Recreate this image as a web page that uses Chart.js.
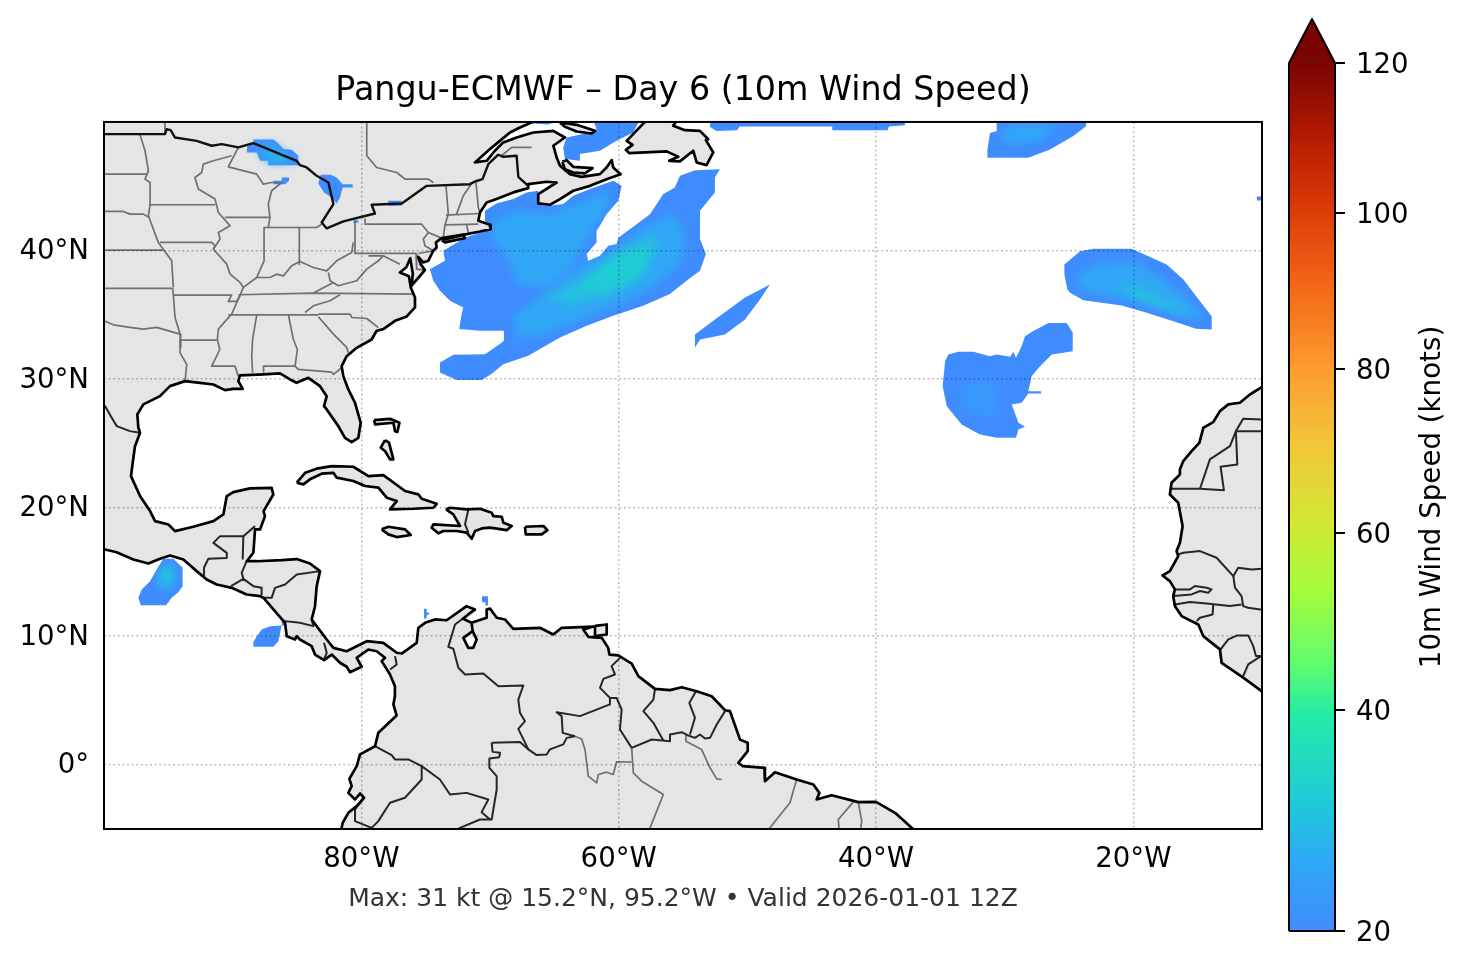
<!DOCTYPE html>
<html>
<head>
<meta charset="utf-8">
<title>Pangu-ECMWF Day 6</title>
<script src="https://cdn.jsdelivr.net/npm/chart.js@4/dist/chart.umd.min.js"></script>
<style>
body { margin: 0; background: #fff; }
canvas { position: absolute; top: 0; }
#mapChart { left: 0; }
#barChart { left: 1270px; }
</style>
</head>
<body>
<canvas id="mapChart" width="1466" height="969"></canvas>
<canvas id="barChart" width="196" height="969"></canvas>
<script>
// axis ticks
const lonTicks = [-80, -60, -40, -20];
const latTicks = [0, 10, 20, 30, 40];
const barTicks = [20, 40, 60, 80, 100, 120];

// colour map, position along the bar -> colour
const cmapStops = [0, .08, .15, .25, .31, .39, .47, .56, .65, .75, .84, .92, 1];
const cmapColors = ['#3f8cff', '#2fa8f5', '#1fcbd8', '#24eca6', '#61fc6c', '#a4fc3c', '#d1e834', '#f3c63a', '#fe9b2d', '#f36315', '#d93806', '#b11901', '#7a0402'];

// land outlines, [lon, lat]
const americas = [[-101,51],[-66.7,51],[-66.7,50],[-67.67,49.57],[-68.45,49.18],[-69.23,48.53],[-70,47.89],[-71.17,46.85],[-70.26,46.98],[-69.62,47.76],[-68.97,48.41],[-67.93,48.79],[-66.64,49.18],[-65.08,49.31],[-64.18,48.79],[-65.08,48.15],[-64.82,47.24],[-64.56,46.59],[-63.79,45.94],[-62.88,45.73],[-61.46,45.94],[-60.94,46.46],[-60.55,47.03],[-60.42,46.46],[-59.85,45.94],[-60.94,45.55],[-62.23,45.03],[-63.53,44.65],[-64.56,44],[-65.34,43.56],[-66.25,43.66],[-66.25,44.39],[-64.82,45.29],[-65.6,45.35],[-67.03,45.16],[-67.03,44.85],[-68.19,44.52],[-69.49,44],[-70.26,43.74],[-70.78,42.96],[-70.91,42.31],[-70,42],[-69.95,41.66],[-70.78,41.48],[-71.82,41.28],[-73.76,40.96],[-74.2,40.63],[-74.15,40.24],[-74.41,39.98],[-74.8,39.2],[-75.19,39.07],[-75.58,39.51],[-75.39,38.94],[-75.06,38.48],[-76.09,37.26],[-76,38.2],[-76.2,39.4],[-76.5,38.7],[-77,38.29],[-76.3,38],[-76.16,37.13],[-75.83,36.35],[-75.83,35.57],[-76.47,34.87],[-77.38,34.53],[-78.29,33.88],[-78.81,33.76],[-79.2,33.08],[-80.36,32.43],[-81.14,31.78],[-81.53,31],[-81.4,30.23],[-81.01,29.19],[-80.49,28.15],[-80.05,26.6],[-80.23,25.43],[-80.75,25.09],[-81.27,25.43],[-81.79,26.34],[-82.69,27.64],[-82.9,27.9],[-82.69,28.67],[-83.21,29.45],[-84.12,30.1],[-85.03,29.71],[-85.54,29.97],[-86.32,30.44],[-87.6,30.36],[-89.43,30.28],[-89.56,29.84],[-89.22,29.24],[-89.95,29.24],[-90.6,29.14],[-91.5,29.58],[-92.54,29.71],[-93.7,29.84],[-94.87,29.45],[-95.65,28.67],[-96.94,28.03],[-97.41,27.25],[-97.33,26.21],[-97.2,25.82],[-97.59,24.78],[-97.77,23.49],[-97.9,22.45],[-97.2,20.9],[-96.42,19.73],[-96.03,18.95],[-94.99,18.69],[-94.48,18.17],[-93.06,18.51],[-91.5,18.95],[-90.72,19.47],[-90.46,20.9],[-89.95,21.21],[-88.65,21.5],[-86.97,21.54],[-86.84,21.02],[-87.6,19.73],[-87.49,19.34],[-87.87,18.3],[-88.26,18.3],[-88.39,16.49],[-88.91,15.83],[-88.13,15.83],[-86.19,15.91],[-85.02,16],[-83.99,15.65],[-83.21,15.06],[-83.47,13.89],[-83.6,12.33],[-83.86,11.3],[-82.69,9.74],[-82.17,9.09],[-81.14,8.83],[-79.58,9.61],[-78.29,9.48],[-77.25,8.71],[-76.87,8.65],[-75.7,9.48],[-75.57,10.65],[-75.05,11.04],[-74.28,11.3],[-73.37,11.24],[-71.82,12.33],[-71.17,12.07],[-71.69,11.69],[-72.1,11.35],[-71.43,11.04],[-71.35,10.39],[-72.07,9.87],[-71.69,9.09],[-71.3,9.09],[-71.04,9.74],[-71.35,10.39],[-71.43,11.04],[-70.26,11.43],[-70.26,12.07],[-70,12.15],[-69.48,11.43],[-68.84,11.3],[-68.19,10.57],[-66.12,10.65],[-65.08,10.13],[-64.43,10.65],[-61.9,10.75],[-62.75,10.52],[-62.36,9.95],[-61.32,9.87],[-60.81,9.09],[-60.72,8.57],[-60.03,8.5],[-58.99,7.87],[-58.47,6.89],[-57.18,5.9],[-56.01,5.8],[-55.1,6.03],[-53.94,5.72],[-52.77,5.33],[-51.73,4.24],[-51.35,4.17],[-50.57,1.96],[-49.97,1.7],[-49.97,1.05],[-50.7,0.15],[-50.36,-0.11],[-48.68,-0.24],[-48.63,-1.28],[-47.85,-0.58],[-46.17,-1.15],[-44.87,-1.54],[-44.4,-2.19],[-44.61,-2.7],[-43.45,-2.37],[-41.37,-2.91],[-40,-2.89],[-38.52,-3.74],[-37.23,-4.91],[-36.58,-5.5],[-36,-7],[-82,-7],[-81.53,-4.91],[-81.45,-4.52],[-81.01,-3.74],[-80.36,-3.22],[-79.79,-2.57],[-80.1,-2.24],[-80.49,-2.7],[-81.01,-2.19],[-80.75,-1.67],[-80.93,-1.1],[-80.36,-0.11],[-80.1,0.8],[-78.94,1.44],[-78.68,2.48],[-77.26,3.83],[-77.51,4.69],[-77.39,5.33],[-77.39,6.11],[-77.77,7.02],[-78.42,8.06],[-78.16,8.32],[-78.81,8.83],[-79.46,8.96],[-80.36,8.32],[-79.98,7.62],[-80.88,7.2],[-81.14,7.62],[-81.66,7.93],[-82.3,8.57],[-82.9,8.13],[-83.6,8.57],[-83.86,9.22],[-84.77,9.74],[-85.02,10],[-85.15,9.74],[-85.8,10],[-85.93,11.04],[-87.6,12.98],[-87.87,13.11],[-88.91,13.24],[-90.08,13.76],[-91.24,14.02],[-92.02,14.41],[-92.8,15.06],[-93.83,15.96],[-94.87,16.27],[-95.65,16.02],[-96.55,15.65],[-97.72,15.96],[-99.02,16.53],[-99.92,16.74],[-101,16.85]];
const newfoundland = [[-58,51],[-57.88,50.09],[-59.38,48.53],[-58.92,48.22],[-59.44,47.83],[-59.18,47.58],[-56.27,47.71],[-55.37,47.29],[-56.07,46.98],[-55.24,46.93],[-54.2,47.76],[-53.94,46.85],[-53.17,46.64],[-52.65,47.63],[-53.22,48.59],[-53.04,48.66],[-53.68,49.31],[-54.85,49.36],[-55.76,49.7],[-55.5,50.09],[-55.5,51]];
const anticosti = [[-64.56,49.96],[-63.27,49.78],[-61.84,49.31],[-62.1,49.1],[-63.27,49.26],[-64.18,49.62]];
const princeEdward = [[-64.38,46.9],[-64.05,47.03],[-63.53,46.51],[-62.03,46.41],[-62.62,46],[-63.53,46.07],[-64.18,46.33]];
const longIsland = [[-73.76,40.8],[-72.08,41.22],[-71.95,40.96],[-73.5,40.63]];
const cuba = [[-85.02,21.94],[-84.37,22.71],[-83.47,23.03],[-82.3,23.23],[-80.62,23.18],[-79.45,22.45],[-78.29,22.53],[-76.6,21.29],[-75.57,21.03],[-75.31,20.69],[-74.14,20.3],[-74.4,19.99],[-75.95,19.91],[-77.77,19.86],[-77.25,20.51],[-78.03,20.77],[-78.67,21.55],[-79.71,21.68],[-80.62,22.07],[-81.91,22.33],[-82.17,22.71],[-83.08,22.64],[-83.99,22.2],[-84.5,21.81]];
const jamaica = [[-78.42,18.31],[-77.9,18.51],[-76.6,18.31],[-76.16,17.87],[-77.25,17.71],[-77.9,17.92]];
const hispaniola = [[-73.42,19.86],[-73.1,19.99],[-71.81,19.86],[-70.77,19.91],[-69.87,19.6],[-69.74,19.34],[-69.09,19.29],[-68.96,18.83],[-68.31,18.57],[-68.7,18.25],[-70,18.44],[-70.64,18.38],[-71.16,18.18],[-71.42,17.58],[-71.81,18.05],[-72.59,18.18],[-73.62,18.18],[-74.01,18],[-74.53,18.44],[-74.4,18.7],[-72.33,18.57],[-72.85,19.47]];
const puertoRico = [[-67.28,18.51],[-65.85,18.57],[-65.54,18.25],[-65.98,17.92],[-67.22,17.92]];
const grandBahama = [[-79.01,26.81],[-77.77,26.91],[-77.04,26.6],[-77.2,25.88],[-77.38,25.95],[-77.51,26.6],[-78.93,26.47]];
const andros = [[-78.16,25.25],[-77.85,25.05],[-77.51,23.75],[-77.77,23.75],[-78.16,24.4],[-78.49,24.66]];
const trinidad = [[-61.84,10.8],[-60.93,10.91],[-60.93,10.13],[-61.84,10]];
const westAfrica = [[-9,30],[-9.77,29.58],[-10.11,29.32],[-10.94,28.8],[-11.72,28.16],[-12.62,28.03],[-13.27,27.51],[-13.79,26.65],[-14.56,26.21],[-14.87,25.04],[-15.47,24.4],[-16.12,23.62],[-16.38,22.97],[-16.38,22.58],[-17.03,21.93],[-17.16,21.02],[-16.51,20.38],[-16.17,18.56],[-16.38,17.27],[-16.64,16.62],[-16.51,16.23],[-17.16,15.06],[-17.73,14.72],[-17.16,14.28],[-16.77,13.64],[-16.9,13.12],[-16.77,12.34],[-16.25,11.56],[-14.95,10.91],[-14.56,10],[-13.27,8.97],[-13.14,7.93],[-11.46,6.77],[-10.03,5.73],[-9.77,5.47],[-9,5]];
const landShapes = [americas, newfoundland, anticosti, princeEdward, longIsland, cuba, jamaica, hispaniola, puertoRico, grandBahama, andros, trinidad, westAfrica];

// black land border
const usCanada = [[-100.5,49.05],[-95.26,49.05],[-95.13,49.44],[-94.82,49.36],[-94.48,48.79],[-92.8,48.53],[-91.63,48.15],[-90.85,48.28],[-89.56,48.02],[-88.39,48.35],[-85.03,46.98],[-84.77,46.64],[-84.25,46.46],[-83.47,45.81],[-82.56,45.29],[-82.17,43.61],[-83.08,42.18],[-82.69,41.72],[-81.4,42.26],[-78.94,42.88],[-79.2,43.56],[-76.86,43.66],[-74.92,45.03],[-71.56,45.16],[-71.17,45.37],[-70.58,45.55],[-70.13,46.72],[-69.36,47.45],[-68.97,47.29],[-67.93,47.37],[-67.8,45.73],[-67.03,45.03]];

// dark country borders
const countryBorders = [
  [[-101,28.2],[-99.92,27.9],[-99.4,26.99],[-99.01,26.34],[-97.98,25.95],[-97.2,25.82]],
  [[-92.28,14.67],[-92.23,15.32],[-91.89,16.02],[-90.46,16.09],[-90.46,16.48],[-91.5,17.26],[-90.98,17.78],[-89.17,17.78],[-89.22,15.97]],
  [[-89.17,17.78],[-88.26,18.56]],
  [[-88.91,15.83],[-89.3,14.93],[-89.17,14.46]],
  [[-90.13,13.89],[-89.17,14.46],[-88.39,13.89],[-87.75,13.76],[-87.75,13.24]],
  [[-87.6,12.98],[-86.97,12.98],[-86.71,13.76],[-85.93,14.02],[-85.02,14.8],[-83.21,15.06]],
  [[-85.93,11.17],[-84.77,11.04],[-83.73,10.78],[-83.86,11.3]],
  [[-82.9,9.48],[-82.69,8.71],[-82.9,8.19]],
  [[-77.38,8.45],[-77.25,7.8],[-77.77,7.41]],
  [[-71.69,11.69],[-72.72,10.91],[-73.24,9.17],[-72.85,9.02],[-72.46,7.54],[-71.94,7.02],[-70.52,7.1],[-69.35,6.11],[-67.41,6.16],[-67.8,5.07],[-67.67,4.04],[-67.28,3.39],[-67.8,2.79],[-67.02,1.19]],
  [[-69.87,1.7],[-67.67,1.76],[-67.02,1.19],[-66.38,0.75],[-65.6,0.8],[-65.34,1.19],[-64.3,1.58],[-64.04,2.09],[-63.4,2.22]],
  [[-69.87,1.7],[-69.8,1],[-69.22,0.93],[-69.28,0.59],[-70.05,0.48],[-70.05,-0.24],[-69.48,-0.89],[-69.48,-1.93],[-69.87,-4.26],[-70.78,-4.26],[-72.33,-4.91],[-73,-5.3]],
  [[-75.31,-0.11],[-73.89,-1.15],[-73.11,-2.32],[-71.82,-2.19],[-70.13,-2.7],[-70.65,-3.69],[-70,-4.26]],
  [[-78.94,1.44],[-77.64,0.74],[-77.39,0.41],[-76.35,0.41],[-75.31,-0.11]],
  [[-75.31,-0.11],[-75.31,-1.15],[-76.61,-2.57],[-77.77,-2.96],[-78.68,-4.39],[-79.2,-4.91],[-80.49,-4.39],[-80.49,-3.48],[-79.79,-2.57]],
  [[-59.9,8.31],[-60.55,7.67],[-60.29,7.02],[-61.19,6.68],[-61.45,5.98],[-60.68,5.2],[-60.16,5.2],[-59.77,4.29],[-59.9,2.74],[-58.99,1.31]],
  [[-60.68,5.2],[-60.68,4.69],[-63.01,3.78],[-64.82,4.09],[-64.43,3.78],[-64.35,2.48],[-63.4,2.22]],
  [[-57.18,5.9],[-57.3,5.07],[-58.08,4.17],[-57.3,3.26],[-56.53,1.88]],
  [[-58.99,1.31],[-57.43,1.96],[-56.01,1.83],[-56.01,2.35],[-55.1,2.53],[-54.58,2.27],[-54.07,2.09],[-53.68,2.35],[-53.29,2.04],[-52.9,2.09],[-52.38,3.13],[-51.73,4.17]],
  [[-53.99,5.72],[-54.51,4.81],[-54.07,3.65],[-54.46,2.35]],
  [[-17.03,21.47],[-14.82,21.47],[-12.96,21.36],[-13.22,23.18],[-11.92,23.36],[-12.03,25.95],[-9,25.95]],
  [[-14.82,21.47],[-14.05,23.75],[-12.49,24.78],[-12.03,25.95],[-11.46,26.91],[-9,26.81]],
  [[-16.51,16.36],[-16.12,16.49],[-14.82,16.62],[-13.53,16.1],[-12.23,14.67],[-11.85,15.32],[-10.81,15.19],[-9,15.32]],
  [[-12.23,14.67],[-12.1,13.77],[-11.59,13.12],[-11.46,12.34],[-11.07,12.21],[-9,11.9]],
  [[-16.77,13.64],[-15.6,13.64],[-15.21,13.9],[-14.3,13.77],[-13.92,13.64],[-14.18,13.38],[-14.82,13.51],[-15.47,13.25],[-16.9,13.12]],
  [[-16.77,12.47],[-15.6,12.65],[-14.3,12.55],[-12.49,12.34],[-11.59,12.47]],
  [[-13.79,12.47],[-13.84,11.69],[-14.82,11.43],[-15.08,11.17]],
  [[-13.22,8.97],[-12.62,9.75],[-11.92,10.06],[-11.07,10.06],[-10.68,9.23],[-10.47,8.45],[-9,8.45]],
  [[-11.46,6.9],[-11.07,7.8],[-10.08,8.45]],
  [[-71.68,19.86],[-71.94,18.7],[-71.68,18.05]]
];

// grey state and province borders
const stateBorders = [
  [[-100.5,45.94],[-96.68,45.94]],
  [[-97.2,49],[-96.81,47.76],[-96.55,46.2],[-96.81,45.55],[-96.42,45.29],[-96.42,43.56],[-96.55,42.7],[-95.78,40.63],[-94.74,39.2],[-94.61,37.13]],
  [[-96.42,43.56],[-91.37,43.56]],
  [[-100.5,43.04],[-98.5,43.04],[-97.98,42.83],[-96.94,42.83],[-96.48,42.57]],
  [[-100.5,40.03],[-95.39,40.03]],
  [[-100.5,37.05],[-94.66,37.05]],
  [[-95.65,40.63],[-91.63,40.63],[-91.37,40.37],[-91.5,40.1]],
  [[-94.61,36.53],[-90.08,36.53],[-90.34,36.04],[-89.69,36.04],[-89.43,36.5]],
  [[-90.08,47.37],[-91.5,46.98],[-92.28,46.72],[-92.41,46.07],[-92.93,45.68],[-92.67,44.78],[-91.37,44],[-91.11,42.96],[-90.2,41.92],[-91.11,41.4],[-90.98,40.89],[-91.5,40.1],[-90.46,38.94],[-90.2,38.16],[-89.43,37.52],[-89.17,37.13],[-89.43,36.5],[-90.08,35.05],[-91.11,33.89],[-91.19,33.08],[-91,32.3],[-91.63,31],[-89.82,31],[-89.56,30.23]],
  [[-94.09,33.08],[-94.09,32.04],[-93.57,31.14],[-93.7,29.84]],
  [[-88.13,35],[-88.45,33.08],[-88.52,31.78],[-88.45,30.49]],
  [[-85.67,35],[-85.28,33.08],[-84.97,32.3],[-85.15,31],[-84.9,30.75],[-82.3,30.54],[-82.17,30.36],[-81.53,30.88]],
  [[-87.6,30.49],[-87.6,31],[-85.15,31]],
  [[-90.34,35],[-83.34,35]],
  [[-83.34,34.85],[-82.17,33.5],[-81.14,32.46],[-81.01,32.04]],
  [[-83.34,35.05],[-80.88,35.05],[-80.75,34.79],[-79.58,34.71],[-78.68,34]],
  [[-84.38,35.18],[-83.73,35.7],[-82.43,36.09],[-81.66,36.56]],
  [[-89.56,36.56],[-83.73,36.69],[-75.83,36.61]],
  [[-89.17,37.13],[-88.13,37.9],[-87.1,37.9],[-86.58,38.16],[-86.06,38.03],[-85.41,38.81],[-84.77,39.15],[-83.73,38.68],[-82.69,38.42],[-81.92,39.2],[-80.75,39.85],[-80.62,40.63]],
  [[-87.56,41.79],[-87.56,39.2],[-88.13,37.9]],
  [[-84.82,41.79],[-84.82,38.94]],
  [[-87.56,41.79],[-83.47,41.79],[-83.08,42.05]],
  [[-90.6,42.57],[-87.1,42.57]],
  [[-86.19,45.29],[-86.97,44.65],[-87.23,43.61],[-87.1,42.57],[-87.23,41.79]],
  [[-89.56,48.02],[-90.34,46.51],[-88.13,45.94],[-87.61,45.16],[-86.97,45.29],[-86.19,45.29]],
  [[-82.56,38.29],[-82.43,37.65],[-81.79,37.26],[-80.36,37.65],[-79.58,38.55],[-78.68,39.2],[-78.29,39.59]],
  [[-83.73,36.69],[-82.17,37.52]],
  [[-80.49,42.31],[-80.49,39.77],[-75.7,39.77]],
  [[-79.45,39.59],[-78.29,39.59],[-77,38.94]],
  [[-75.75,39.72],[-75.7,38.55],[-75.05,38.48]],
  [[-79.71,42.44],[-79.71,42.05],[-75.31,42.05],[-74.79,41.4],[-73.89,41.02]],
  [[-74.79,41.4],[-75.18,40.89],[-75.05,40.37],[-74.41,39.98],[-75.57,39.77]],
  [[-79.58,50.5],[-79.58,47.37],[-78.81,46.46],[-77.25,46.07],[-76.6,45.55],[-74.79,45.55],[-74.4,45.29]],
  [[-73.42,45.04],[-73.24,42.83],[-73.5,42],[-73.63,41.02]],
  [[-71.43,45.22],[-72.08,44.26],[-72.6,42.83]],
  [[-71.09,45.29],[-70.91,43.35],[-70.78,42.96]],
  [[-73.42,42.75],[-70.78,42.88]],
  [[-73.5,42],[-70.91,42.05]],
  [[-71.82,42],[-71.69,41.4]],
  [[-69.1,47.37],[-68.32,48.02],[-66.77,48.02]],
  [[-95.26,50.5],[-95.26,49.05]],
  [[-94.66,37.05],[-94.61,36.53],[-94.48,34.79],[-94.09,33.5],[-94.04,32.46]],
  [[-100.5,34.6],[-100,34.53],[-99.27,34.22],[-97.98,34.02],[-96.94,33.89],[-95.91,34.02],[-94.09,33.5]],
  [[-94.09,33.03],[-91.24,33.03]],
  [[-54.77,2.35],[-54.77,1.83],[-53.55,1.18],[-52.9,-0.24],[-52.38,-1.1],[-51.99,-1.15]],
  [[-58.99,1.31],[-58.86,-0.63],[-58.21,-1.28],[-56.53,-2.32],[-57.56,-4.91],[-57.7,-5.3]],
  [[-58.99,0.2],[-60.16,0.23],[-60.42,-0.76],[-60.94,-0.58],[-61.58,-0.76],[-61.71,-1.41],[-62.36,-0.89],[-62.62,1.19],[-62.88,2],[-63.4,2.22]],
  [[-46.17,-1.15],[-46.69,-2.96],[-48.24,-4.91],[-48.6,-5.3]],
  [[-41.76,-2.89],[-42.93,-4.26],[-42.85,-5.3]],
  [[-41.37,-2.96],[-41.11,-4.39],[-41.24,-5.3]],
  [[-37.36,-4.91],[-37.75,-5.3]]
];

// wind speed regions, outer edge at 20 kt
const atlanticMain = [[-70.39,43.09],[-69.49,43.66],[-68.19,44],[-67.16,44.52],[-66.25,44.65],[-66.25,43.56],[-65.34,43.48],[-64.31,43.61],[-63.53,44.26],[-62.23,44.78],[-60.42,45.42],[-59.77,45.03],[-60.03,43.87],[-60.94,42.83],[-61.46,41.92],[-61.72,41.53],[-61.72,40.63],[-62.49,39.72],[-62.36,39.2],[-61.46,39.59],[-60.81,40.37],[-60.16,40.5],[-60.03,41],[-58.61,42.05],[-57.57,42.83],[-56.53,44.39],[-55.63,44.9],[-55.24,45.81],[-54.07,46.25],[-52.13,46.33],[-52.52,45.68],[-52.52,44.52],[-53.68,43.09],[-53.68,40.89],[-53.22,39.72],[-53.68,38.42],[-54.72,37.65],[-56.02,36.61],[-58.09,35.7],[-60.42,34.92],[-62.49,34.14],[-64.56,33.24],[-67.03,31.81],[-68.97,31.16],[-69.88,30.39],[-70.65,29.92],[-72.6,29.92],[-73.89,30.52],[-73.89,31.29],[-72.85,31.89],[-70.39,31.94],[-69.23,32.72],[-68.92,32.98],[-68.92,33.76],[-70.78,33.76],[-72.39,33.89],[-72.21,35.05],[-72.08,35.57],[-73.11,36.09],[-73.89,36.87],[-74.41,37.65],[-74.67,38.55],[-73.5,39.2],[-73.63,39.98],[-71.95,41],[-70,41.66],[-70.39,42.31]];
const gulfStLawrenceA = [[-67.1,50.5],[-67,49.9],[-65.5,49.8],[-64.9,50],[-64.6,50.5]];
const gulfStLawrenceB = [[-62.1,50.5],[-58.2,50.5],[-58.87,49.18],[-60.16,48.53],[-61.46,47.76],[-63.01,47.5],[-63.01,46.98],[-64.18,47.11],[-64.31,48.02],[-64.05,48.79],[-62.23,49.18],[-61.72,49.44]];
const northStrip = [[-52.9,50.5],[-52.9,49.6],[-52.4,49.3],[-50.8,49.35],[-50.6,49.65],[-43.4,49.65],[-43.4,49.35],[-39.1,49.35],[-39,49.65],[-37.75,49.75],[-37.75,50.5]];
const midAtlantic = [[-54.07,32.46],[-54.07,33.47],[-52.52,34.64],[-50.18,36.35],[-48.24,37.36],[-49.02,36.19],[-50.18,34.64],[-51.74,33.47],[-53.68,33.08]];
const northEast = [[-30.62,50.5],[-23.68,50.5],[-23.68,49.67],[-24.66,48.9],[-26.47,47.86],[-28.16,47.21],[-31.34,47.21],[-31.34,47.86],[-31.14,49.15],[-30.67,49.28]];
const azoresNorth = [[-23.11,40.13],[-20.13,40.13],[-18.96,39.61],[-17.41,38.91],[-16.11,37.75],[-14.82,36.06],[-13.91,34.89],[-13.91,33.86],[-15.13,33.91],[-16.89,34.5],[-18.96,35.15],[-20.9,35.72],[-22.46,35.93],[-23.88,36.14],[-24.92,36.71],[-25.13,36.97],[-25.36,38.13],[-25.36,38.91],[-24.14,39.95]];
const azoresSouth = [[-26.6,34.37],[-25.18,34.37],[-24.71,33.6],[-24.71,32.17],[-26.34,31.91],[-27.25,31],[-27.9,30.23],[-28.16,29.06],[-27.17,29.06],[-27.17,28.88],[-28.16,28.88],[-28.68,28.15],[-29.45,28.02],[-28.93,26.6],[-28.42,26.29],[-28.93,26.08],[-29.12,25.43],[-30.62,25.43],[-31.91,25.69],[-33.34,26.47],[-34.5,27.89],[-34.82,29.45],[-34.63,31.39],[-34.38,31.91],[-33.6,32.12],[-32.43,32.12],[-31.14,31.78],[-30.62,31.91],[-29.58,31.73],[-29.32,32.12],[-29.12,31.65],[-28.68,32.56],[-28.42,33.34],[-27.77,33.73]];
const tehuantepec = [[-95.39,16.02],[-94.61,16.02],[-93.89,15.32],[-93.89,13.89],[-94.22,13.42],[-94.74,12.98],[-95.18,12.41],[-97.15,12.41],[-97.33,12.98],[-97.07,13.63],[-96.42,14.28],[-95.91,15.19]];
const papagayo = [[-87.1,10.78],[-86.19,10.83],[-86.45,9.61],[-86.84,9.17],[-88.39,9.17],[-88.39,9.53],[-88.13,9.99],[-87.75,10.52]];
const papagayoSmall = [[-86.19,11.3],[-85.93,11.3],[-85.93,10.83],[-86.19,10.83]];
const colombiaDot = [[-75.13,12.13],[-74.92,12.13],[-74.92,11.87],[-74.66,11.76],[-74.92,11.61],[-74.92,11.37],[-75.13,11.37]];
const arubaDot = [[-70.62,13.11],[-70.16,13.11],[-70.16,12.39],[-70.36,12.39],[-70.36,12.64],[-70.62,12.64]];
const superior = [[-88.39,48.64],[-86.84,48.64],[-86.45,48.33],[-86.06,47.89],[-85.41,47.83],[-84.9,47.37],[-84.9,46.64],[-87.23,46.64],[-87.23,46.98],[-87.87,46.98],[-88.13,47.63],[-88.91,47.63],[-88.86,48.15],[-88.39,48.33]];
const michigan = [[-86.84,45.42],[-86.19,45.42],[-86.19,45.68],[-85.62,45.68],[-85.62,45.42],[-85.93,45.16],[-86.84,45.16]];
const huron = [[-83.16,45.89],[-82.38,45.89],[-81.92,45.68],[-81.45,45.16],[-80.67,45.16],[-80.67,44.9],[-81.45,44.9],[-81.66,44.13],[-81.92,43.66],[-82.3,44.13],[-82.9,44.52],[-83.34,45.22]];
const ontarioLake = [[-77.9,43.87],[-76.86,43.87],[-76.86,43.48],[-77.9,43.48]];
const erieDot = [[-80.62,42.36],[-80.23,42.36],[-80.23,42.16],[-80.62,42.16]];
const edgeDot = [[-10.4,44.2],[-9.9,44.2],[-9.9,43.9],[-10.4,43.9]];

// stronger wind inside them
const atlanticNorth25 = [[-69.75,42.31],[-67.93,43.09],[-65.34,42.83],[-63.01,43.74],[-60.94,44.52],[-60.81,43.61],[-62.1,41.53],[-63.01,39.98],[-64.05,38.16],[-65.86,37.13],[-67.93,37.39],[-68.45,39.2],[-69.75,40.76]];
const atlanticBand25 = [[-68.19,34.79],[-65.86,36.61],[-62.75,38.94],[-59.9,40.5],[-57.57,42.05],[-55.76,42.83],[-54.98,41.53],[-54.98,39.2],[-57.31,37.13],[-60.42,35.57],[-63.53,34.4],[-66.64,33.24],[-67.93,33.24]];
const atlanticBand29 = [[-65.6,36.35],[-62.49,37.9],[-59.9,39.72],[-57.31,41.27],[-57.05,39.98],[-58.09,38.16],[-60.94,36.61],[-63.53,35.83]];
const atlanticBand31 = [[-63,37.4],[-59.9,39.8],[-57.6,40.3],[-58.3,38],[-60.94,36.7]];
const northEast25 = [[-29.58,49.8],[-25.96,49.8],[-26.99,48.63],[-29.32,48.25],[-30.36,48.63]];
const azoresNorth25 = [[-24.4,38],[-22.59,39.04],[-19.74,39.04],[-17.66,37.75],[-15.85,36.2],[-14.3,34.63],[-16.11,34.89],[-19.22,36.06],[-22.33,36.45],[-24.14,37.1]];
const azoresNorth29 = [[-21.03,37.23],[-19.22,36.97],[-17.15,35.93],[-15.33,34.89],[-17.41,35.41],[-19.74,36.19]];
const azoresSouth22 = [[-33.73,28.93],[-31.91,29.97],[-30.62,29.45],[-30.88,26.86],[-32.43,27.37]];
const tehuantepec25 = [[-95.39,15.57],[-94.48,15.32],[-94.35,14.15],[-95.52,13.37],[-95.91,14.15]];
const tehuantepec29 = [[-95.26,15.57],[-94.74,15.19],[-94.87,14.15],[-95.65,14.02]];
const tehuantepec31 = [[-95.13,15.32],[-94.82,14.93],[-95.26,14.28],[-95.52,14.54]];
const superior25 = [[-88.13,48.28],[-86.84,48.28],[-85.02,46.98],[-87.1,46.85],[-87.87,47.5]];
const superior29 = [[-87.62,47.76],[-86.58,47.5],[-85.41,46.98],[-86.97,47.03]];

const windKnots = [20, 20, 20, 20, 20, 20, 20, 20, 20, 20, 20, 20, 20, 20, 20, 20, 20, 20, 20,
  25, 25, 29, 31, 25, 25, 29, 22, 25, 29, 31, 25, 29];
const windShapes = [atlanticMain, gulfStLawrenceA, gulfStLawrenceB, northStrip, midAtlantic, northEast, azoresNorth, azoresSouth, tehuantepec, papagayo, papagayoSmall, colombiaDot, arubaDot, superior, michigan, huron, ontarioLake, erieDot, edgeDot,
  atlanticNorth25, atlanticBand25, atlanticBand29, atlanticBand31, northEast25, azoresNorth25, azoresNorth29, azoresSouth22, tehuantepec25, tehuantepec29, tehuantepec31, superior25, superior29];

const FONT = '"DejaVu Sans", sans-serif';

function barPos(kt) {
  return Math.pow((kt - 20) / 100, 0.85);
}

function cmap(p) {
  let i = 0;
  while (i < cmapStops.length - 2 && p > cmapStops[i + 1]) i++;
  const f = Math.min(1, (p - cmapStops[i]) / (cmapStops[i + 1] - cmapStops[i]));
  const a = parseInt(cmapColors[i].slice(1), 16), b = parseInt(cmapColors[i + 1].slice(1), 16);
  const mix = s => Math.round(((a >> s) & 255) * (1 - f) + ((b >> s) & 255) * f);
  return 'rgb(' + mix(16) + ',' + mix(8) + ',' + mix(0) + ')';
}

function toPoints(pts, closed) {
  const out = pts.map(p => ({ x: p[0], y: p[1] }));
  if (closed) out.push(out[0]);
  return out;
}

function polygon(pts, fill, line, width) {
  return { data: toPoints(pts, true), showLine: true, fill: 'shape', backgroundColor: fill,
    borderColor: line || 'transparent', borderWidth: width || 0, pointRadius: 0, tension: 0 };
}

function polyline(pts, line, width) {
  return { data: toPoints(pts, false), showLine: true, fill: false, borderColor: line,
    borderWidth: width, pointRadius: 0, tension: 0, borderJoinStyle: 'round' };
}

// drawn in this order, bottom to top
let mapSets = [];
landShapes.forEach(s => mapSets.push(polygon(s, '#e5e5e5')));
windShapes.forEach((s, i) => {
  const d = polygon(s, cmap(barPos(windKnots[i])));
  d.soft = windKnots[i] > 20;
  mapSets.push(d);
});
stateBorders.forEach(s => mapSets.push(polyline(s, '#707070', 1.7)));
countryBorders.forEach(s => mapSets.push(polyline(s, '#262626', 2)));
mapSets.push(polyline(usCanada, '#111', 2.4));
landShapes.forEach(s => mapSets.push(polyline(s.concat([s[0]]), '#000', 2.7)));
mapSets.forEach((d, i) => { d.order = -i; });

// the filler runs first in each dataset draw, so the blur for the stronger
// wind shapes has to be set when the dataset before them has finished
const softWind = {
  id: 'softWind',
  afterDatasetDraw(chart, args) {
    const next = chart.data.datasets[args.index + 1];
    const soft = next && next.soft;
    chart.ctx.filter = soft ? 'blur(4px)' : 'none';
    chart.ctx.globalCompositeOperation = soft ? 'source-atop' : 'source-over';
  }
};

const frame = {
  id: 'frame',
  afterDraw(chart) {
    const a = chart.chartArea, c = chart.ctx;
    c.save();
    c.strokeStyle = '#000';
    c.lineWidth = 2;
    c.strokeRect(a.left, a.top, a.right - a.left, a.bottom - a.top);
    c.restore();
  }
};

new Chart(document.getElementById('mapChart'), {
  type: 'scatter',
  data: { datasets: mapSets },
  plugins: [softWind, frame],
  options: {
    responsive: false,
    animation: false,
    events: [],
    layout: { padding: { left: 0, right: 204, top: 0, bottom: 55 } },
    plugins: {
      legend: { display: false },
      tooltip: { enabled: false },
      title: {
        display: true,
        fullSize: false,
        text: 'Pangu-ECMWF – Day 6 (10m Wind Speed)',
        color: '#000',
        font: { family: FONT, size: 33.3, weight: 'normal' },
        padding: { top: 71, bottom: 11 }
      }
    },
    scales: {
      x: {
        type: 'linear', min: -100, max: -10,
        afterFit(s) { s.height = 85; },
        afterBuildTicks(s) { s.ticks = lonTicks.map(v => ({ value: v })); },
        grid: { color: 'rgba(0,0,0,0.26)', lineWidth: 1.5, drawTicks: false, z: 1 },
        border: { display: false, dash: [2, 2.6] },
        ticks: { color: '#000', padding: 14, maxRotation: 0, autoSkip: false,
          font: { family: FONT, size: 27.6 }, callback: v => (-v) + '°W' },
        title: { display: true, text: 'Max: 31 kt @ 15.2°N, 95.2°W • Valid 2026-01-01 12Z', color: '#333',
          font: { family: FONT, size: 25 }, padding: { top: 6, bottom: 0 } }
      },
      y: {
        type: 'linear', min: -5, max: 50,
        afterFit(s) { s.width = 104; },
        afterBuildTicks(s) { s.ticks = latTicks.map(v => ({ value: v })); },
        grid: { color: 'rgba(0,0,0,0.26)', lineWidth: 1.5, drawTicks: false, z: 1 },
        border: { display: false, dash: [2, 2.6] },
        ticks: { color: '#000', padding: 15, labelOffset: 1.5, autoSkip: false,
          font: { family: FONT, size: 27.6 }, callback: v => v === 0 ? '0°' : v + '°N' }
      }
    }
  }
});

// colour bar: strips painted from the bottom up, each one reaching the top of the bar
const barLevels = [];
for (let i = 0; i < 220; i++) barLevels.push(i / 220);
const TIP = 912 / 868;

let barSets = barLevels.map(p => polygon([[0, p], [1, p], [1, 1], [0, 1]], cmap(p + 0.5 / 220)));
barSets.push(polygon([[0, 1], [0.5, TIP], [1, 1]], cmap(1)));
barSets.push(polyline([[0, 0], [0, 1], [0.5, TIP], [1, 1], [1, 0], [0, 0]], '#000', 2));
barSets.forEach((d, i) => { d.order = -i; d.clip = false; });

const barTitle = {
  id: 'barTitle',
  afterDraw(chart) {
    const c = chart.ctx;
    c.save();
    c.translate(162.5, 497);
    c.rotate(-Math.PI / 2);
    c.fillStyle = '#000';
    c.font = '27.7px ' + FONT;
    c.textAlign = 'center';
    c.textBaseline = 'middle';
    c.fillText('10m Wind Speed (knots)', 0, 0);
    c.restore();
  }
};

new Chart(document.getElementById('barChart'), {
  type: 'scatter',
  data: { datasets: barSets },
  plugins: [barTitle],
  options: {
    responsive: false,
    animation: false,
    events: [],
    layout: { padding: { left: 19, right: 0, top: 19, bottom: 38 } },
    plugins: { legend: { display: false }, tooltip: { enabled: false } },
    scales: {
      x: { type: 'linear', min: 0, max: 1, display: false },
      y: {
        type: 'linear', position: 'right', min: 0, max: TIP,
        afterFit(s) { s.width = 131; s.paddingTop = 0; s.paddingBottom = 0; },
        afterBuildTicks(s) { s.ticks = barTicks.map(v => ({ value: barPos(v) })); },
        afterTickToLabelConversion(s) { s.ticks.forEach((t, i) => { t.label = String(barTicks[i]); }); },
        grid: { drawOnChartArea: false, color: '#000', lineWidth: 2, tickLength: 10 },
        border: { display: false },
        ticks: { color: '#000', padding: 11, labelOffset: 3, autoSkip: false, font: { family: FONT, size: 27.6 } }
      }
    }
  }
});
</script>
</body>
</html>
